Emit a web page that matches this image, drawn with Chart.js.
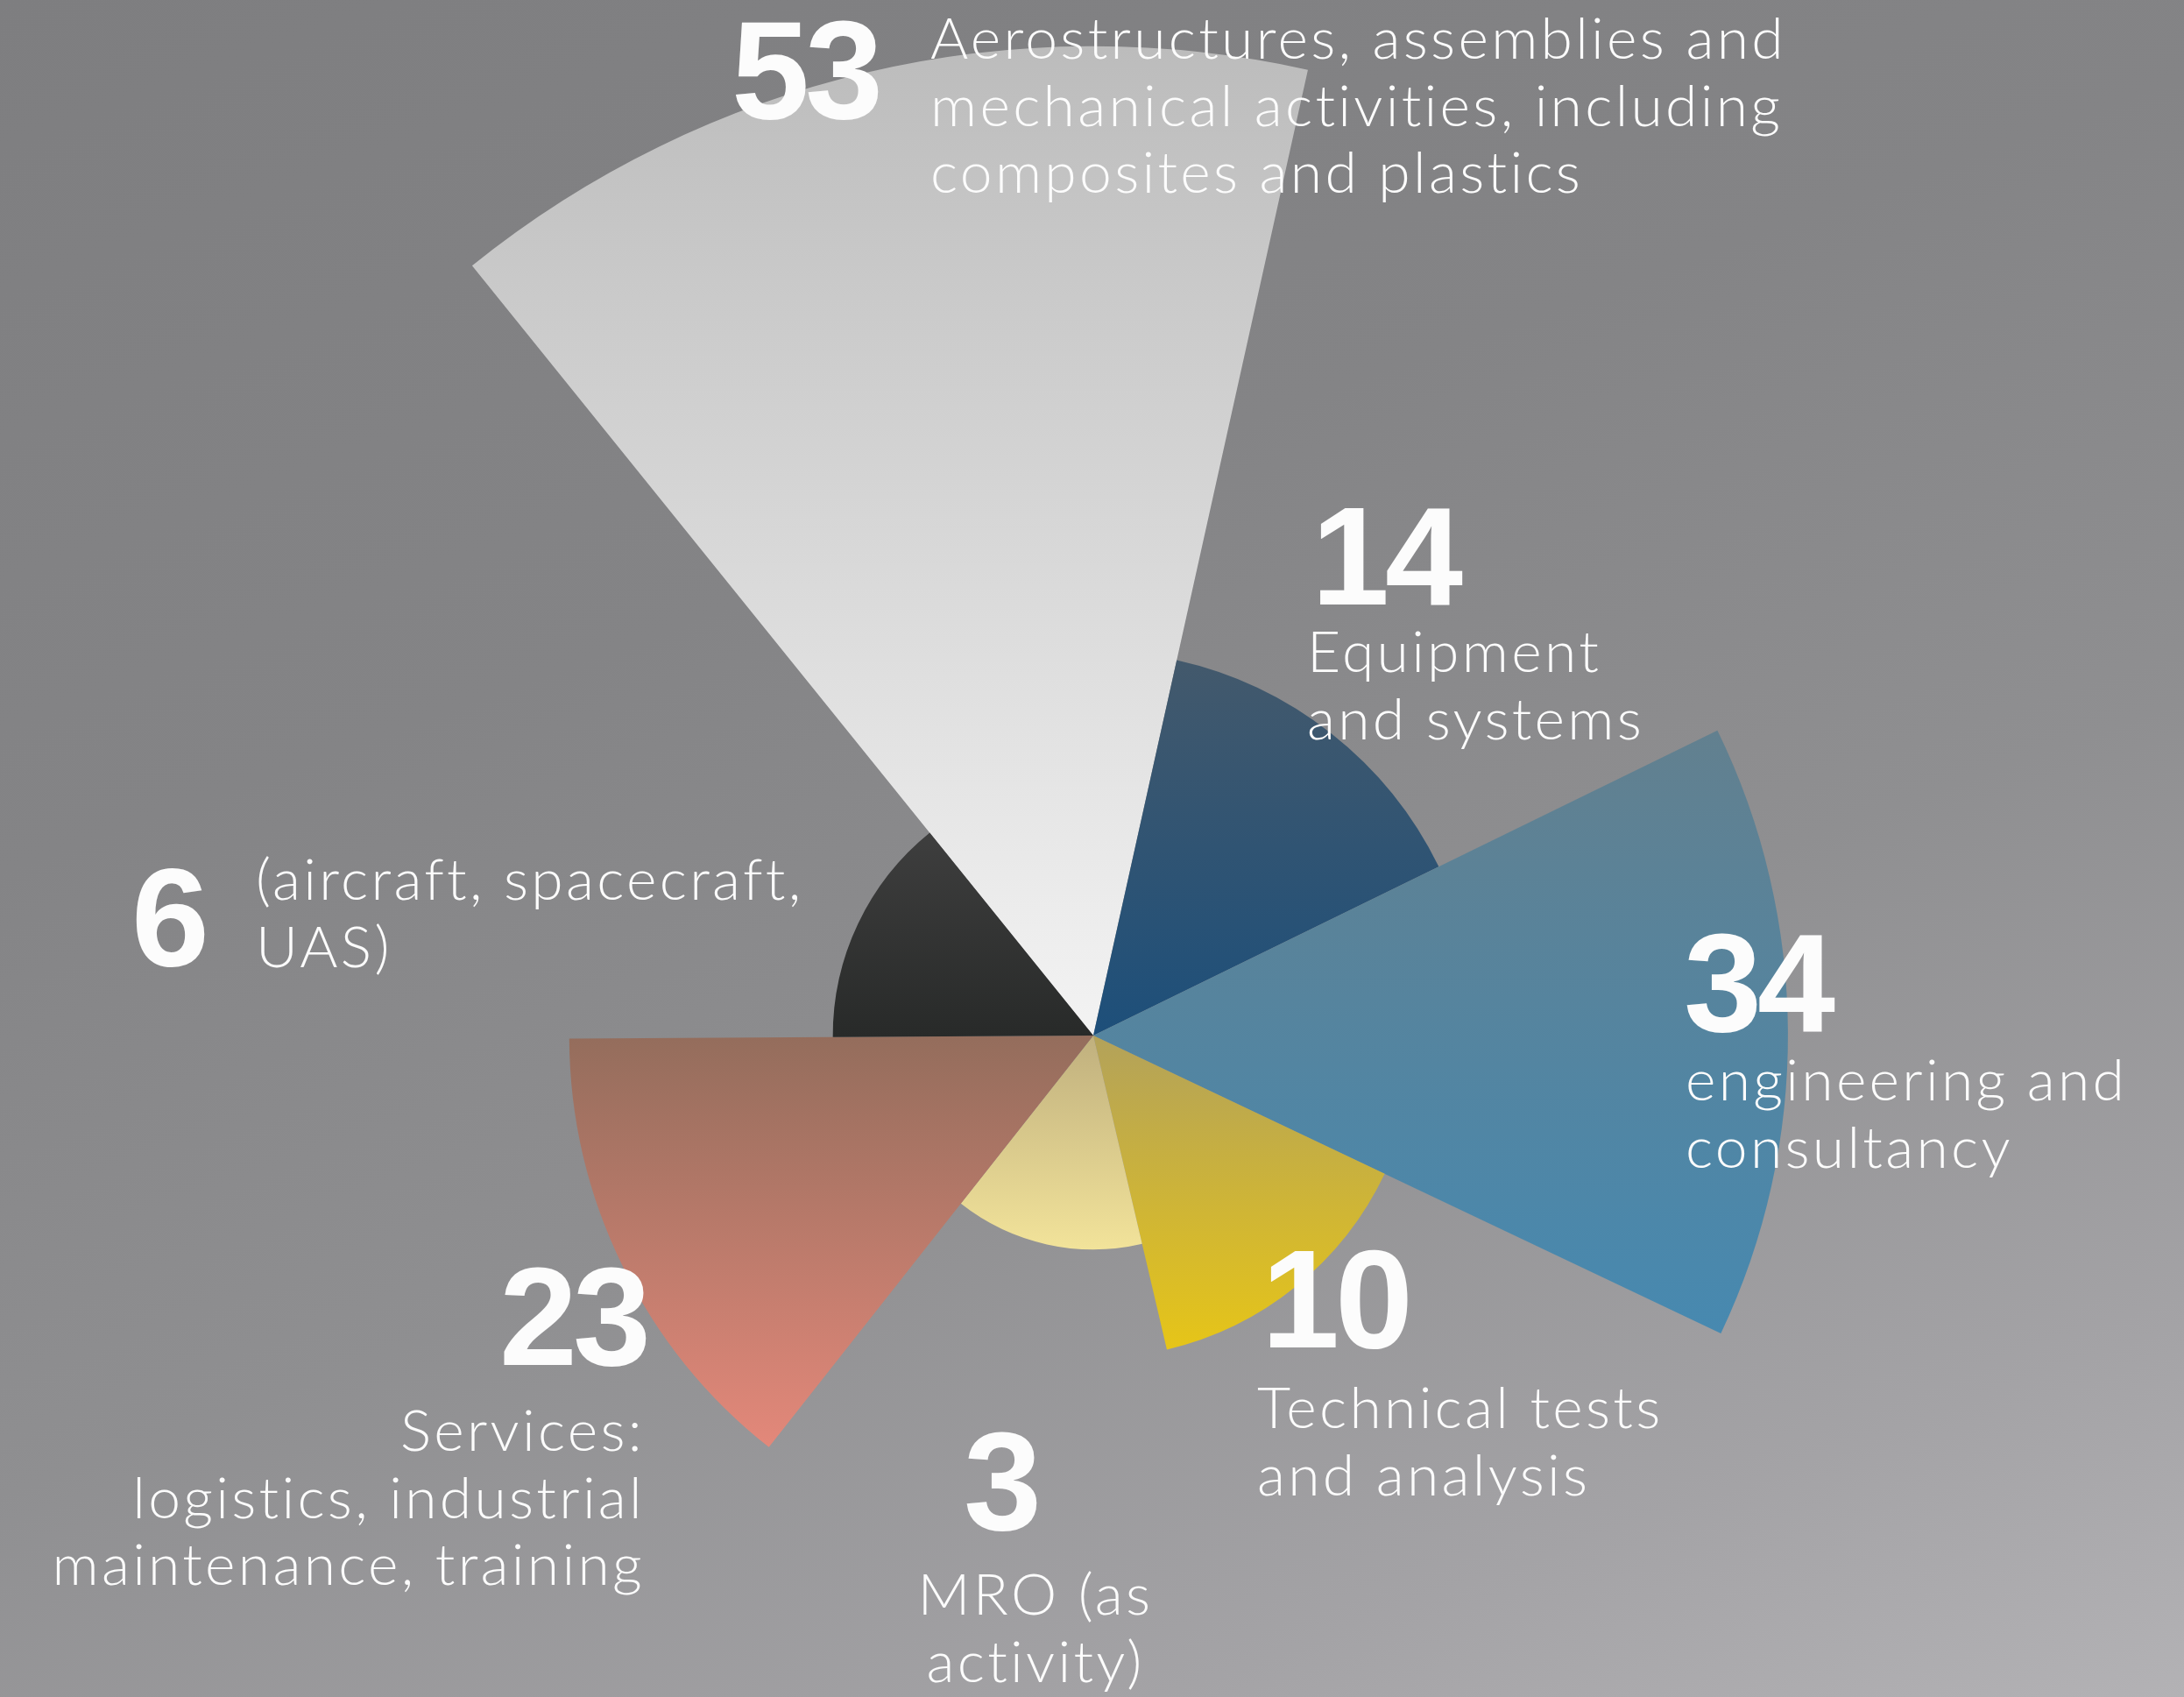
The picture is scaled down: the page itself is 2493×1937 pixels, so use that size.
<!DOCTYPE html>
<html>
<head>
<meta charset="utf-8">
<script src="https://cdn.jsdelivr.net/npm/chart.js@4.4.1/dist/chart.umd.min.js"></script>
<style>
  html, body { margin: 0; padding: 0; }
  body { width: 2493px; height: 1937px; overflow: hidden; }
  #stage {
    position: relative; width: 2493px; height: 1937px; overflow: hidden;
    background: linear-gradient(160deg, #7e7e80 0%, #848486 35%, #8f8f91 60%, #a4a3a6 85%, #b3b2b5 100%);
  }
  #chart { position: absolute; left: 0; top: 0; }
  .num, .txt { position: absolute; color: #fcfcfc; white-space: nowrap; margin: 0; }
  .num { font-family: "Liberation Sans", Arial, sans-serif; font-weight: 700; font-size: 160px; line-height: 160px; letter-spacing: -5px; }
  .txt { font-family: Lato, "Open Sans", sans-serif; font-weight: 300; font-size: 66px; line-height: 76px; letter-spacing: 3.3px; }
  .bm { display: inline-block; width: 0; height: 0; vertical-align: baseline; }
</style>
</head>
<body>
<div id="stage">
  <canvas id="chart" width="2493" height="1937"></canvas>
</div>
<script>
// ---------------- data ----------------
const labelLines = [
  ["Aerostructures, assemblies and", "mechanical activities, including", "composites and plastics"],
  ["Equipment", "and systems"],
  ["engineering and", "consultancy"],
  ["Technical tests", "and analysis"],
  ["MRO (as", "activity)"],
  ["Services:", "logistics, industrial", "maintenance, training"],
  ["(aircraft, spacecraft,", "UAS)"]
];
const categories = labelLines.map(l => l.join(" "));
const values = [53, 14, 34, 10, 3, 23, 6];

// ---------------- styles / layout ----------------
const sliceColors = [
  ["#bcbcbc", "#f3f3f3"],  // top, bottom
  ["#43596c", "#1d4f7a"],
  ["#62808f", "#4789b0"],
  ["#b3a25a", "#e6c518"],
  ["#c0b07e", "#f2e39a"],
  ["#946d5c", "#e3887a"],
  ["#3e3e3e", "#282a29"]
];
const START_ANGLE = -38.9;
const R_MIN = -10.8, R_MAX = 28.75;

// label layout: number anchor (x, baseline, align), text anchor (x, first baseline, align)
const labelLayout = [
  { nx: 835,  nb: 135,  na: "left",  tx: 1062, tb: 67,   ta: "left" },
  { nx: 1497, nb: 690,  na: "left",  tx: 1492, tb: 767,  ta: "left" },
  { nx: 1922, nb: 1177, na: "left",  tx: 1924, tb: 1256, ta: "left" },
  { nx: 1440, nb: 1538, na: "left",  tx: 1435, tb: 1630, ta: "left" },
  { nx: 1100, nb: 1746, na: "left",  tx: 1182, tb: 1843, ta: "center" },
  { nx: 738,  nb: 1558, na: "right", tx: 736,  tb: 1656, ta: "right" },
  { nx: 150,  nb: 1102, na: "left",  tx: 292,  tb: 1027, ta: "left" }
];
const LINE_H = 76.5;

function sliceFill(ctx) {
  const i = ctx.dataIndex;
  const cols = sliceColors[i];
  const chart = ctx.chart;
  const s = chart.scales && chart.scales.r;
  if (!s || !s.drawingArea || ctx.type !== "data") return cols[1];
  const r = s.getDistanceFromCenterForValue(ctx.raw);
  const n = values.length;
  const a0 = START_ANGLE * Math.PI / 180 - Math.PI / 2 + i * 2 * Math.PI / n;
  const a1 = a0 + 2 * Math.PI / n;
  let minY = s.yCenter, maxY = s.yCenter;
  for (let k = 0; k <= 40; k++) {
    const a = a0 + (a1 - a0) * k / 40;
    const y = s.yCenter + r * Math.sin(a);
    minY = Math.min(minY, y); maxY = Math.max(maxY, y);
  }
  const g = chart.ctx.createLinearGradient(0, minY, 0, maxY);
  g.addColorStop(0, cols[0]);
  g.addColorStop(1, cols[1]);
  return g;
}

const W = 2493, H = 1937, CX = 1248, CY = 1182, HALF = 700;

new Chart(document.getElementById("chart"), {
  type: "polarArea",
  data: {
    labels: categories,
    datasets: [{
      data: values,
      backgroundColor: sliceFill,
      borderWidth: 0,
      clip: false
    }]
  },
  options: {
    responsive: false,
    animation: false,
    layout: { padding: { left: CX - HALF, right: W - CX - HALF, top: CY - HALF, bottom: H - CY - HALF } },
    plugins: { legend: { display: false }, tooltip: { enabled: false } },
    scales: {
      r: {
        min: R_MIN, max: R_MAX,
        startAngle: START_ANGLE,
        grid: { display: false },
        angleLines: { display: false },
        ticks: { display: false },
        pointLabels: { display: false }
      }
    }
  }
});

// ---------------- HTML labels ----------------
const stage = document.getElementById("stage");
function placeLine(text, x, baseline, cls, align) {
  const d = document.createElement("div");
  d.className = cls;
  d.appendChild(document.createTextNode(text));
  const m = document.createElement("span");
  m.className = "bm";
  d.appendChild(m);
  d.style.left = "0px"; d.style.top = "0px";
  stage.appendChild(d);
  const off = m.getBoundingClientRect().bottom - d.getBoundingClientRect().top;
  const w = d.getBoundingClientRect().width;
  d.style.top = (baseline - off) + "px";
  let left = x;
  if (align === "right") left = x - w;
  else if (align === "center") left = x - w / 2;
  d.style.left = left + "px";
}
function drawLabels() {
  labelLayout.forEach((L, i) => {
    placeLine(String(values[i]), L.nx, L.nb, "num", L.na);
    labelLines[i].forEach((line, j) => placeLine(line, L.tx, L.tb + j * LINE_H, "txt", L.ta));
  });
}
if (document.fonts && document.fonts.ready) document.fonts.ready.then(drawLabels); else drawLabels();
</script>
</body>
</html>
